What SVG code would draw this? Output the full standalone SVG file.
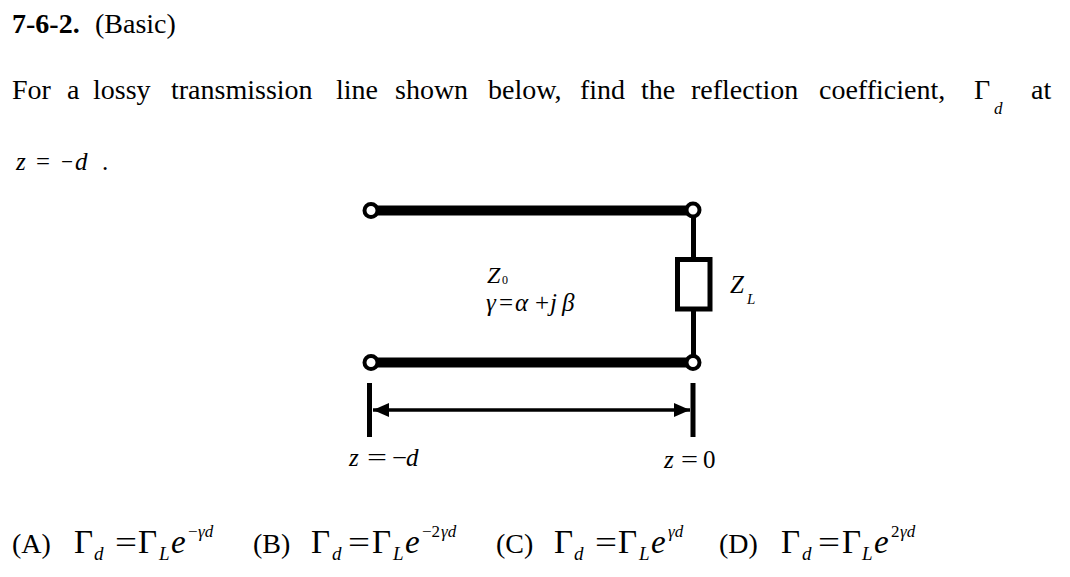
<svg xmlns="http://www.w3.org/2000/svg" width="1070" height="577" viewBox="0 0 1070 577">
<style>
.t{font-family:"Liberation Serif","Times New Roman",serif;fill:#000}
.b{font-weight:bold}
.it{font-family:"Liberation Serif","Times New Roman",serif;font-style:italic}
.wire{stroke:#000;fill:none}
.term{fill:#fff;stroke:#000;stroke-width:4}
</style>
<defs>
<marker id="ah" markerUnits="userSpaceOnUse" markerWidth="17" markerHeight="14" refX="16" refY="7" orient="auto-start-reverse">
<path d="M0,0 L16,7 L0,14 z" fill="#000"/>
</marker>
</defs>
<rect width="1070" height="577" fill="#fff"/>

<g id="title">
<text class="t b" x="12" y="33" font-size="28">7-6-2.</text>
<text class="t" x="95" y="33" font-size="28">(Basic)</text>
</g>

<g id="question" class="t" font-size="28">
<text x="12" y="99">For</text>
<text x="67" y="99">a</text>
<text x="93" y="99">lossy</text>
<text x="171" y="99">transmission</text>
<text x="336" y="99">line</text>
<text x="395" y="99">shown</text>
<text x="488" y="99">below,</text>
<text x="580" y="99">find</text>
<text x="641" y="99">the</text>
<text x="691" y="99">reflection</text>
<text x="819" y="99">coefficient,</text>
<text x="974" y="99">Γ</text>
<text class="it" x="994" y="114" font-size="17">d</text>
<text x="1031" y="99">at</text>
<text class="it" x="16" y="170" font-size="25">z</text>
<text x="36" y="170" font-size="25" textLength="14" lengthAdjust="spacingAndGlyphs">=</text>
<text x="61" y="170" font-size="25" textLength="12" lengthAdjust="spacingAndGlyphs">−</text>
<text class="it" x="75" y="170" font-size="25">d</text>
<text x="102" y="170" font-size="25">.</text>
</g>

<g id="connectors">
<line class="wire" x1="371" y1="210.5" x2="693" y2="210.5" stroke-width="10"/>
<line class="wire" x1="371" y1="362.5" x2="693" y2="362.5" stroke-width="10"/>
<line class="wire" x1="693.5" y1="210" x2="693.5" y2="362" stroke-width="5"/>
</g>

<g id="terminals">
<circle class="term" cx="371" cy="210.5" r="6.5"/>
<circle class="term" cx="693" cy="210" r="6.5"/>
<circle class="term" cx="371" cy="362.5" r="6.5"/>
<circle class="term" cx="693" cy="362.5" r="6.5"/>
</g>

<g id="load" class="t">
<rect x="677.5" y="259.5" width="32.5" height="49.5" fill="#fff" stroke="#000" stroke-width="5"/>
<text class="it" x="730" y="293" font-size="25">Z</text>
<text class="it" x="747" y="304" font-size="15">L</text>
</g>

<g id="line-params" class="t">
<text class="it" x="487" y="283" font-size="24">Z</text>
<text x="502" y="284" font-size="12">0</text>
<text class="it" x="486" y="311" font-size="25">γ</text>
<text x="499" y="311" font-size="25">=</text>
<text class="it" x="515" y="311" font-size="25">α</text>
<text x="535" y="311" font-size="25">+</text>
<text class="it" x="550" y="311" font-size="25">j</text>
<text class="it" x="562" y="311" font-size="25">β</text>
</g>

<g id="dimension">
<line class="wire" x1="369.5" y1="383" x2="369.5" y2="437" stroke-width="5"/>
<line class="wire" x1="693" y1="383" x2="693" y2="437" stroke-width="5"/>
<line class="wire" x1="373" y1="410" x2="690" y2="410" stroke-width="3.5" marker-start="url(#ah)" marker-end="url(#ah)"/>
<g class="t" font-size="25">
<text class="it" x="349" y="466">z</text>
<text x="367" y="466" textLength="20" lengthAdjust="spacingAndGlyphs">=</text>
<text x="392" y="466" textLength="15" lengthAdjust="spacingAndGlyphs">−</text>
<text class="it" x="406" y="466">d</text>
<text class="it" x="664" y="468">z</text>
<text x="681" y="468" textLength="17" lengthAdjust="spacingAndGlyphs">=</text>
<text x="703" y="468">0</text>
</g>
</g>

<g id="answers" class="t">
<g id="optA">
<text x="12" y="553" font-size="28">(A)</text>
<text x="74" y="553" font-size="33">Γ</text>
<text class="it" x="94" y="560" font-size="19">d</text>
<text x="115" y="553" font-size="31" textLength="22" lengthAdjust="spacingAndGlyphs">=</text>
<text x="138" y="553" font-size="33">Γ</text>
<text class="it" x="159" y="560" font-size="19">L</text>
<text class="it" x="171" y="553" font-size="33">e</text>
<text x="188" y="537" font-size="17">−</text>
<text class="it" x="198" y="537" font-size="17">γd</text>
</g>
<g id="optB">
<text x="253" y="553" font-size="28">(B)</text>
<text x="311" y="553" font-size="33">Γ</text>
<text class="it" x="332" y="560" font-size="19">d</text>
<text x="348" y="553" font-size="31" textLength="22" lengthAdjust="spacingAndGlyphs">=</text>
<text x="372" y="553" font-size="33">Γ</text>
<text class="it" x="393" y="560" font-size="19">L</text>
<text class="it" x="405" y="553" font-size="33">e</text>
<text x="422" y="537" font-size="17">−2</text>
<text class="it" x="441" y="537" font-size="17">γd</text>
</g>
<g id="optC">
<text x="496" y="553" font-size="28">(C)</text>
<text x="554" y="553" font-size="33">Γ</text>
<text class="it" x="574" y="560" font-size="19">d</text>
<text x="595" y="553" font-size="31" textLength="22" lengthAdjust="spacingAndGlyphs">=</text>
<text x="618" y="553" font-size="33">Γ</text>
<text class="it" x="639" y="560" font-size="19">L</text>
<text class="it" x="651" y="553" font-size="33">e</text>
<text class="it" x="668" y="537" font-size="17">γd</text>
</g>
<g id="optD">
<text x="719" y="553" font-size="28">(D)</text>
<text x="781" y="553" font-size="33">Γ</text>
<text class="it" x="802" y="560" font-size="19">d</text>
<text x="818" y="553" font-size="31" textLength="22" lengthAdjust="spacingAndGlyphs">=</text>
<text x="842" y="553" font-size="33">Γ</text>
<text class="it" x="862" y="560" font-size="19">L</text>
<text class="it" x="874" y="553" font-size="33">e</text>
<text x="891" y="537" font-size="17">2</text>
<text class="it" x="900" y="537" font-size="17">γd</text>
</g>
</g>
</svg>
